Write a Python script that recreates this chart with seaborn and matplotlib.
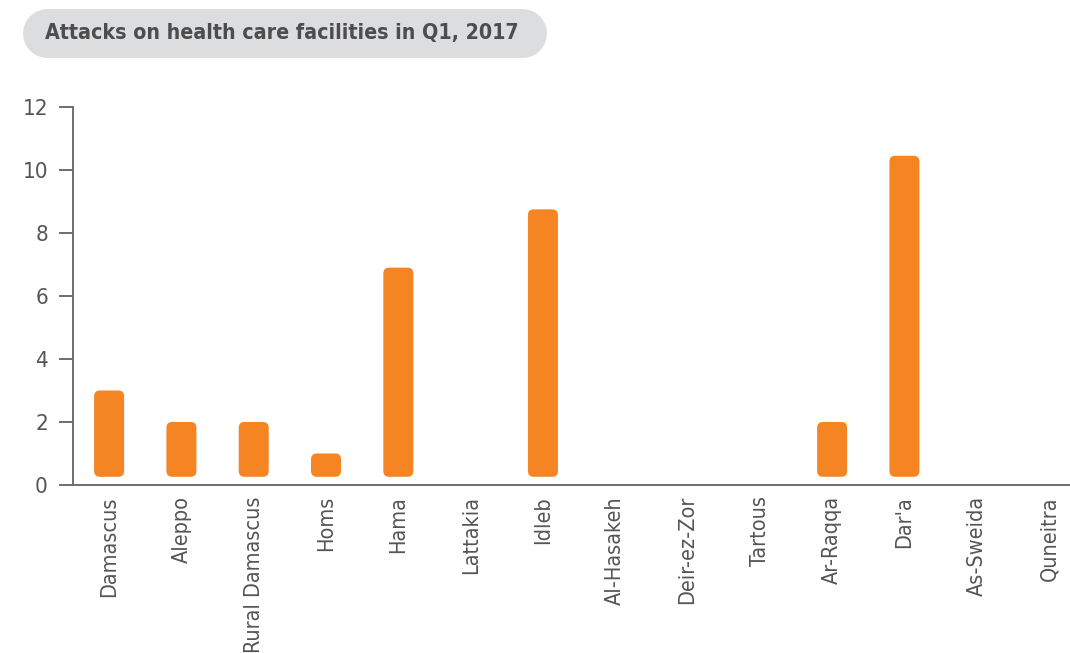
import matplotlib
matplotlib.use("Agg")
import matplotlib.pyplot as plt
from matplotlib.patches import FancyBboxPatch
from matplotlib.lines import Line2D
import pandas as pd
import seaborn as sns

# governorates and number of attacks
governorates = ['Damascus', 'Aleppo', 'Rural Damascus', 'Homs', 'Hama', 'Lattakia', 'Idleb',
                'Al-Hasakeh', 'Deir-ez-Zor', 'Tartous', 'Ar-Raqqa', "Dar'a", 'As-Sweida', 'Quneitra']
attacks = [3, 2, 2, 1, 6.9, 0, 8.75, 0, 0, 0, 2, 10.45, 0, 0]
y_ticks = [0, 2, 4, 6, 8, 10, 12]
title = 'Attacks on health care facilities in Q1, 2017'

orange = '#f58423'
grey_txt = '#555555'
axis_col = '#6e6e6e'

df = pd.DataFrame({'gov': governorates, 'attacks': attacks})

sns.set_style('white')
plt.rcParams['font.family'] = ['DejaVu Sans']
plt.rcParams['font.stretch'] = 'condensed'

W, H = 1070, 653
fig = plt.figure(figsize=(W / 100, H / 100), dpi=100)
ax = fig.add_axes([0.0682, 0.2573, 0.9318, 0.5789])

sns.barplot(data=df, x='gov', y='attacks', color=orange, width=0.415, ax=ax, saturation=1)

# swap the square bars for rounded ones
bars = list(ax.patches)
for p in bars:
    h = p.get_height()
    if h > 0:
        base = 0.26
        rb = FancyBboxPatch((p.get_x(), base), p.get_width(), h - base,
                            boxstyle='round,pad=0,rounding_size=0.08',
                            mutation_aspect=2.3, facecolor=orange, edgecolor='none')
        ax.add_patch(rb)
    p.remove()

ax.set_xlim(-0.5, 13.29)
ax.set_ylim(0, 12)
ax.set_yticks(y_ticks)
ax.set_yticklabels([str(t) for t in y_ticks], fontsize=16, color=grey_txt)
ax.set_xticks(range(len(governorates)))
ax.set_xticklabels(governorates, rotation=90, fontsize=15.5, color=grey_txt, va='top', ha='center')
ax.set_xlabel('')
ax.set_ylabel('')

for s in ['top', 'right']:
    ax.spines[s].set_visible(False)
for s in ['left', 'bottom']:
    ax.spines[s].set_color(axis_col)
    ax.spines[s].set_linewidth(1.4)
ax.tick_params(axis='y', length=10, width=1.4, color=axis_col, pad=8, left=True)
ax.tick_params(axis='x', length=0, pad=8)

# title in a grey pill (thick line with round caps)
r = 24.5
pill = Line2D([(22 + r) / W, (546 - r) / W], [1 - 32.5 / H, 1 - 32.5 / H],
              transform=fig.transFigure, color='#dcdddf', linewidth=2 * r * 0.72,
              solid_capstyle='round')
fig.lines.append(pill)
fig.text(45 / W, 1 - 32.5 / H, title, fontsize=15.3, fontweight='bold', color='#4d4d4d',
         va='center', ha='left')

fig.savefig('out.png', dpi=100)
